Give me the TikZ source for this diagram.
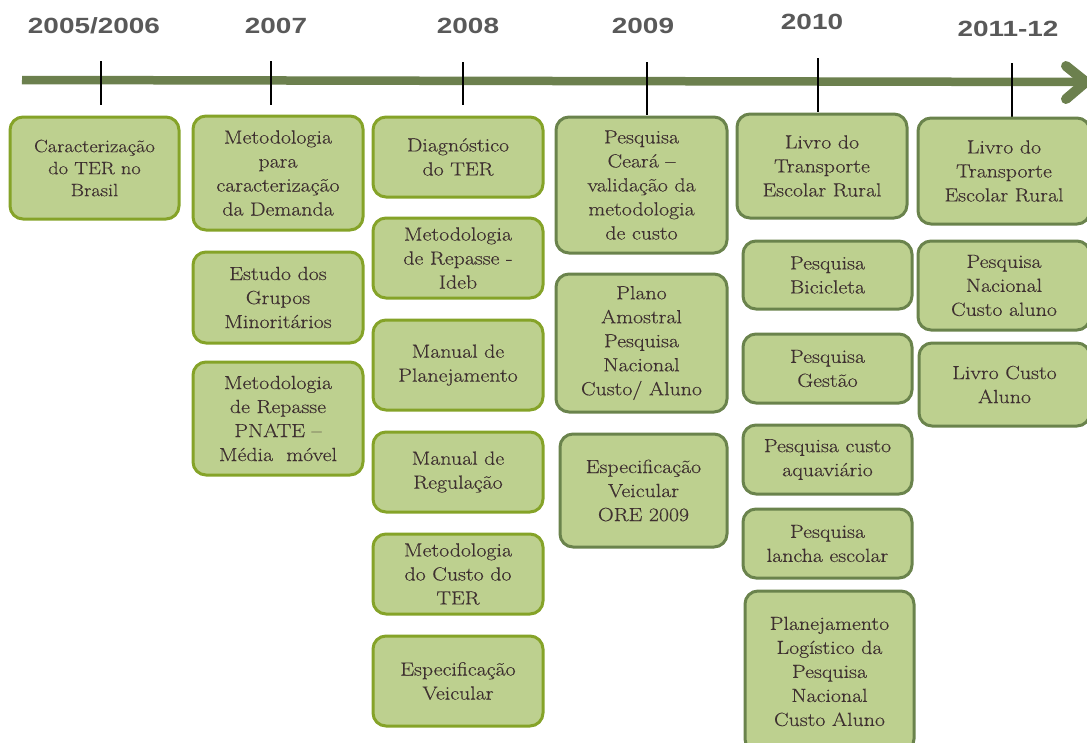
\documentclass[tikz,border=0pt]{standalone}
\usepackage{fontspec}
\setmainfont{Latin Modern Roman}[FakeStretch=1.15, FakeBold=0.35]
\newfontfamily\yearfont{Liberation Sans}[FakeStretch=1.27]
\definecolor{tlcol}{RGB}{108,128,78}
\definecolor{borderA}{RGB}{133,163,40}
\definecolor{borderB}{RGB}{106,131,76}
\definecolor{boxfill}{RGB}{189,208,143}
\definecolor{txt}{RGB}{62,48,48}
\definecolor{yeartxt}{RGB}{89,89,89}
\newcommand\boxfont{\fontsize{19}{24}\selectfont}
\newcommand\smallboxfont{\fontsize{17.8}{22}\selectfont}
\tikzset{
  boxA/.style={draw=borderA, fill=boxfill, line width=3pt, rounded corners=13pt,
    align=center, text=txt, font=\boxfont, inner sep=0pt},
  boxB/.style={boxA, draw=borderB},
  sz/.style 2 args={minimum width=#1pt, minimum height=#2pt},
  year/.style={text=yeartxt, font=\yearfont\bfseries\fontsize{22}{26}\selectfont, inner sep=0pt},
  tickline/.style={line width=1.4pt, black},
  timeline/.style={line width=8.5pt, draw=tlcol},
}
\begin{document}
\begin{tikzpicture}[x=1pt, y=-1pt]
\clip (0,0) rectangle (1087,742);
\fill[white] (0,0) rectangle (1087,742);

% timeline
\coordinate (tlstart) at (22,80);
\coordinate (tlend) at (1086,82);
\coordinate (chevup) at (1066,66);
\coordinate (chevdn) at (1066,99);
\draw[timeline] (tlstart) -- (tlend);
\draw[timeline, line width=10pt, line cap=round, line join=round] (chevup) -- (tlend) -- (chevdn);

% years
\node[year] (y05) at (94,26) {2005/2006};
\node[year] (y07) at (276,26) {2007};
\node[year] (y08) at (468,26) {2008};
\node[year] (y09) at (643,26) {2009};
\node[year] (y10) at (812,22) {2010};
\node[year] (y11) at (1008,29) {2011-12};

% ticks
\coordinate (t05a) at (101,61);  \coordinate (t05b) at (101,105);
\coordinate (t07a) at (271,61);  \coordinate (t07b) at (271,105);
\coordinate (t08a) at (463,62);  \coordinate (t08b) at (463,105);
\coordinate (t09a) at (647,62);  \coordinate (t09b) at (647,115);
\coordinate (t10a) at (818,58);  \coordinate (t10b) at (818,112);
\coordinate (t11a) at (1012,63); \coordinate (t11b) at (1012,118);
\draw[tickline] (t05a) -- (t05b);
\draw[tickline] (t07a) -- (t07b);
\draw[tickline] (t08a) -- (t08b);
\draw[tickline] (t09a) -- (t09b);
\draw[tickline] (t10a) -- (t10b);
\draw[tickline] (t11a) -- (t11b);

% column 2005/2006
\node[boxA, sz={169}{102}, font=\smallboxfont] (b11) at (94.5,168) {Caracterização\\do TER no\\Brasil};

% column 2007
\node[boxA, sz={170}{114}] (b21) at (278,173) {Metodologia\\para\\caracterização\\da Demanda};
\node[boxA, sz={170}{91}] (b22) at (278,297.5) {Estudo dos\\Grupos\\Minoritários};
\node[boxA, sz={170}{113}] (b23) at (278,418.5) {Metodologia\\de Repasse\\PNATE –\\Média~ móvel};

% column 2008
\node[boxA, sz={170}{80}] (b31) at (458,157) {Diagnóstico\\do TER};
\node[boxA, sz={170}{80}] (b32) at (458,258) {Metodologia\\de Repasse -\\Ideb};
\node[boxA, sz={170}{90}] (b33) at (458,365) {Manual de\\Planejamento};
\node[boxA, sz={170}{80}] (b34) at (458,472) {Manual de\\Regulação};
\node[boxA, sz={170}{80}] (b35) at (458,574) {Metodologia\\do Custo do\\TER};
\node[boxA, sz={170}{90}] (b36) at (458,681) {Especificação\\Veicular};

% column 2009
\node[boxB, sz={171}{136}] (b41) at (641.5,185) {Pesquisa\\Ceará –\\validação da\\metodologia\\de custo};
\node[boxB, sz={171}{138}] (b42) at (641.5,343) {Plano\\Amostral\\Pesquisa\\Nacional\\Custo/ Aluno};
\node[boxB, sz={167}{113}] (b43) at (643.5,490.5) {Especificação\\Veicular\\ORE 2009};

% column 2010
\node[boxB, sz={170}{104}] (b51) at (822,166) {Livro do\\Transporte\\Escolar Rural};
\node[boxB, sz={169}{68}] (b52) at (827.5,275) {Pesquisa\\Bicicleta};
\node[boxB, sz={169}{69}] (b53) at (827.5,368.5) {Pesquisa\\Gestão};
\node[boxB, sz={169}{69}] (b54) at (827.5,459.5) {Pesquisa custo\\aquaviário};
\node[boxB, sz={169}{69}] (b55) at (827.5,543.5) {Pesquisa\\lancha escolar};
\node[boxB, sz={169}{161}] (b56) at (829.5,671.5) {Planejamento\\Logístico da\\Pesquisa\\Nacional\\Custo Aluno};

% column 2011-12
\node[boxB, sz={172}{106}] (b61) at (1004,171) {Livro do\\Transporte\\Escolar Rural};
\node[boxB, sz={172}{89}] (b62) at (1004,285.5) {Pesquisa\\Nacional\\Custo aluno};
\node[boxB, sz={171}{83}] (b63) at (1004.5,384.5) {Livro Custo\\Aluno};
\end{tikzpicture}
\end{document}
